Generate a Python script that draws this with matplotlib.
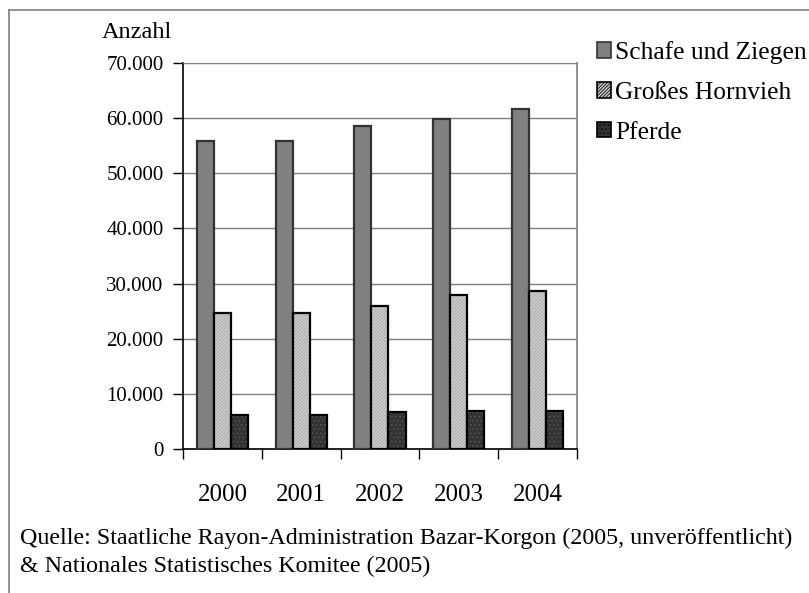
import matplotlib.pyplot as plt
from matplotlib.lines import Line2D
from matplotlib.patches import Patch
import numpy as np

years = ['2000', '2001', '2002', '2003', '2004']
schafe = [55800, 55800, 58500, 59800, 61600]
hornvieh = [24600, 24600, 26000, 28000, 28700]
pferde = [6300, 6300, 6700, 7000, 7000]
series_names = ['Schafe und Ziegen', 'Großes Hornvieh', 'Pferde']
ytick_vals = np.arange(0, 70001, 10000)
source = ('Quelle: Staatliche Rayon-Administration Bazar-Korgon (2005, unveröffentlicht)\n'
          '& Nationales Statistisches Komitee (2005)')

plt.rcParams['font.family'] = ['Liberation Serif', 'DejaVu Serif']
plt.rcParams['hatch.linewidth'] = 0.6

fig = plt.figure(figsize=(8.09, 5.93), dpi=100)
ax = fig.add_axes([0.2262, 0.2423, 0.487, 0.652])

x = np.arange(len(years))
w = 0.216

# Schafe und Ziegen
ax.bar(x - w, schafe, w, color='#808080', edgecolor='#333333', linewidth=1.6, zorder=3)
# Großes Hornvieh: hatched fill, then black outline
ax.bar(x, hornvieh, w, color='#cfcfcf', edgecolor='#a5a5a5', hatch='//////////', linewidth=0, zorder=3)
ax.bar(x, hornvieh, w, fill=False, edgecolor='black', linewidth=1.6, zorder=4)
# Pferde: dark with dots
ax.bar(x + w, pferde, w, color='#333333', edgecolor='#575757', hatch='....', linewidth=0, zorder=3)
ax.bar(x + w, pferde, w, fill=False, edgecolor='black', linewidth=1.6, zorder=4)

ax.set_xlim(-0.5, len(years) - 0.5)
ax.set_ylim(0, 70000)
ax.set_yticks(ytick_vals)
ax.set_yticklabels(['{:,}'.format(v).replace(',', '.') for v in ytick_vals], fontsize=15)
ax.yaxis.grid(True, color='#808080', linewidth=1, zorder=0)
ax.tick_params(axis='y', direction='out', length=7, width=1, pad=7)

# category boundary ticks, labels in centres
ax.set_xticks(np.arange(len(years) + 1) - 0.5)
ax.set_xticklabels([])
ax.set_xticks(x, minor=True)
ax.set_xticklabels(years, minor=True, fontsize=18)
ax.tick_params(axis='x', which='major', direction='out', length=7, width=1)
ax.tick_params(axis='x', which='minor', length=0, pad=25)

for s in ['left', 'bottom']:
    ax.spines[s].set_color('black')
    ax.spines[s].set_linewidth(1.2)
ax.spines['top'].set_color('#808080')
ax.spines['right'].set_color('#808080')
ax.spines['right'].set_linewidth(1.2)

fig.text(137 / 809, 1 - 32 / 593, 'Anzahl', fontsize=17.5, ha='center', va='center')

handles = [Patch(facecolor='#808080', edgecolor='#333333', linewidth=1.2),
           Patch(facecolor='#cfcfcf', edgecolor='black', hatch='//////////', linewidth=1.2),
           Patch(facecolor='#333333', edgecolor='black', hatch='....', linewidth=1.2)]
fig.legend(handles, series_names, loc='upper left', bbox_to_anchor=(597 / 809, 1 - 41 / 593),
           frameon=False, fontsize=18.4, handlelength=0.55, handleheight=0.55,
           handletextpad=0.15, labelspacing=0.7, borderpad=0, borderaxespad=0)

fig.text(20 / 809, 1 - 552 / 593, source, fontsize=17.3, ha='left', va='center', linespacing=1.42)

# outer frame (top and left only)
fig.add_artist(Line2D([9 / 809, 1], [1 - 10 / 593, 1 - 10 / 593], color='#808080', linewidth=1.2))
fig.add_artist(Line2D([9 / 809, 9 / 809], [0, 1 - 10 / 593], color='#808080', linewidth=1.2))

fig.savefig('out.png', dpi=100)
